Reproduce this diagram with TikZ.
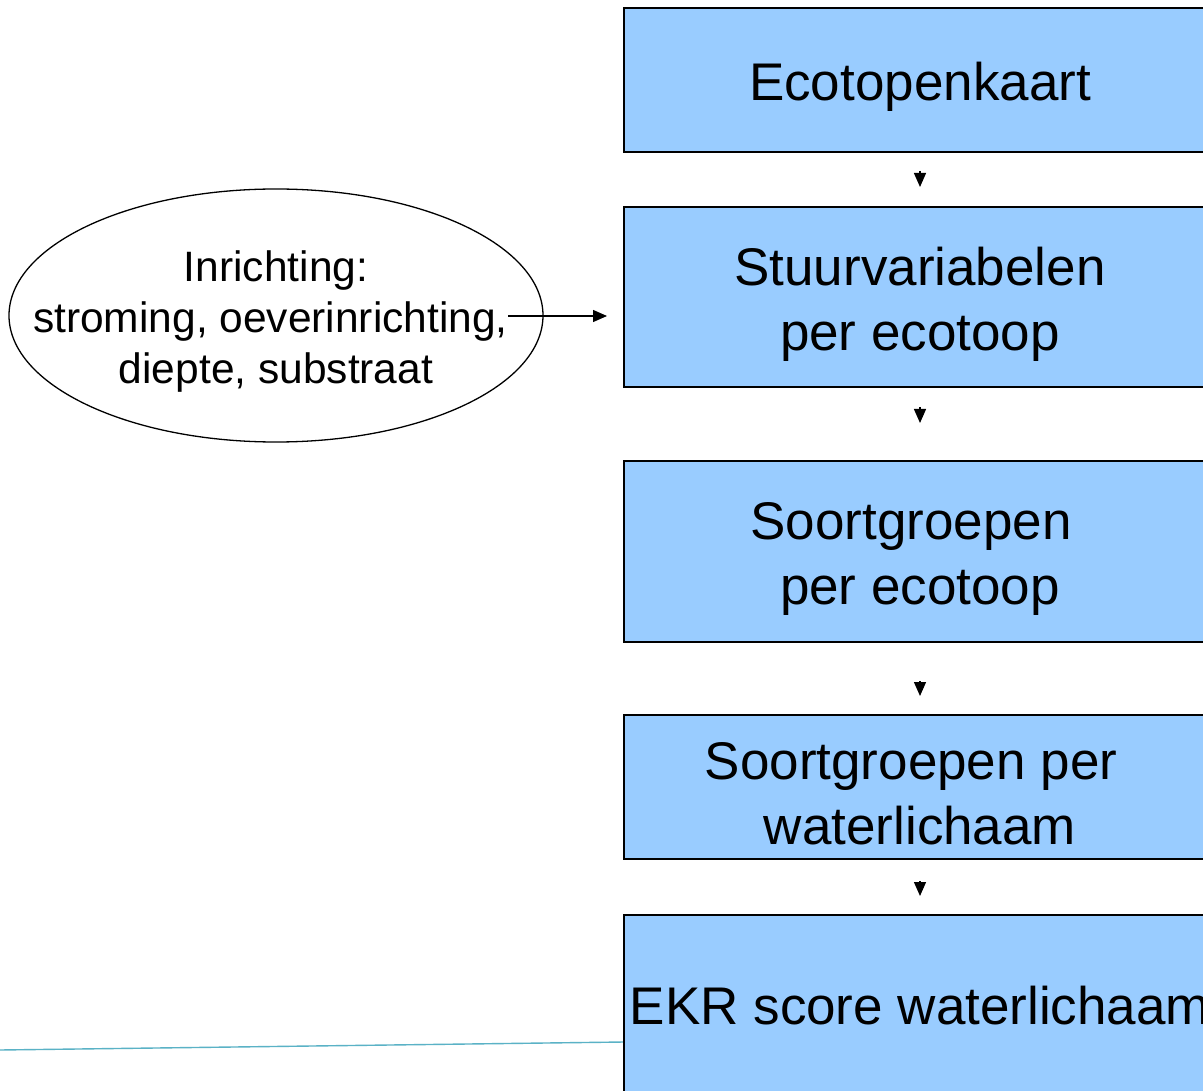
\documentclass[tikz,border=0pt]{standalone}
\usepackage{fontspec}
\setmainfont{Liberation Sans}
\usetikzlibrary{shapes.geometric,arrows.meta}
\definecolor{boxblue}{RGB}{153,204,255}
\definecolor{rulecyan}{RGB}{90,178,198}
\tikzset{
  stepbox/.style={draw=black, line width=2pt, fill=boxblue, minimum width=592pt, inner sep=0pt},
  boxtext/.style={align=center, font=\fontsize{53}{65}\selectfont, inner sep=0pt, yshift=-7pt},
  flow/.style={-{Triangle[width=12pt,length=14pt]}, line width=1.3pt},
}
\begin{document}
\begin{tikzpicture}[x=1pt,y=-1pt]
\useasboundingbox (0,0) rectangle (1203,1091);
\fill[white] (0,0) rectangle (1203,1091);

% thin rule along the bottom
\draw[rulecyan, line width=1.4pt] (0,1050) -- (624,1042);

% main chain of boxes
\node[stepbox, minimum height=144pt,
  label={[boxtext]center:Ecotopenkaart}] (eco) at (920,80) {};
\node[stepbox, minimum height=180pt,
  label={[boxtext]center:Stuurvariabelen\\per ecotoop}] (stuur) at (920,297) {};
\node[stepbox, minimum height=181pt,
  label={[boxtext]center:Soortgroepen\hspace*{18pt}\\per ecotoop}] (sgeco) at (920,551.5) {};
\node[stepbox, minimum height=144pt,
  label={[boxtext]center:Soortgroepen per\hspace*{18pt}\\waterlichaam}] (sgwl) at (920,787) {};
\node[stepbox, minimum height=186pt,
  label={[boxtext, yshift=9pt]center:EKR score waterlichaam}] (ekr) at (920,1008) {};

% design inputs
\node[draw=black, line width=1.3pt, ellipse, minimum width=534pt, minimum height=253pt] (inr) at (276,315.5) {};
\node[align=center, inner sep=0pt, font=\fontsize{42.5}{51}\selectfont] (inrtxt) at (270.5,322)
  {Inrichting:\hspace*{-11pt}\\stroming, oeverinrichting,\\diepte, substraat\hspace*{-11pt}};

% connectors
\draw[flow, shorten <=18pt, shorten >=19pt] (eco.south) -- (stuur.north);
\draw[flow, shorten <=19pt, shorten >=37pt] (stuur.south) -- (sgeco.north);
\draw[flow, shorten <=38pt, shorten >=18pt] (sgeco.south) -- (sgwl.north);
\draw[flow, shorten <=21pt, shorten >=18pt] (sgwl.south) -- (ekr.north);
\draw[flow, shorten >=16pt] (inrtxt.east |- 0,316) -- (stuur.west |- 0,316);
\end{tikzpicture}
\end{document}
